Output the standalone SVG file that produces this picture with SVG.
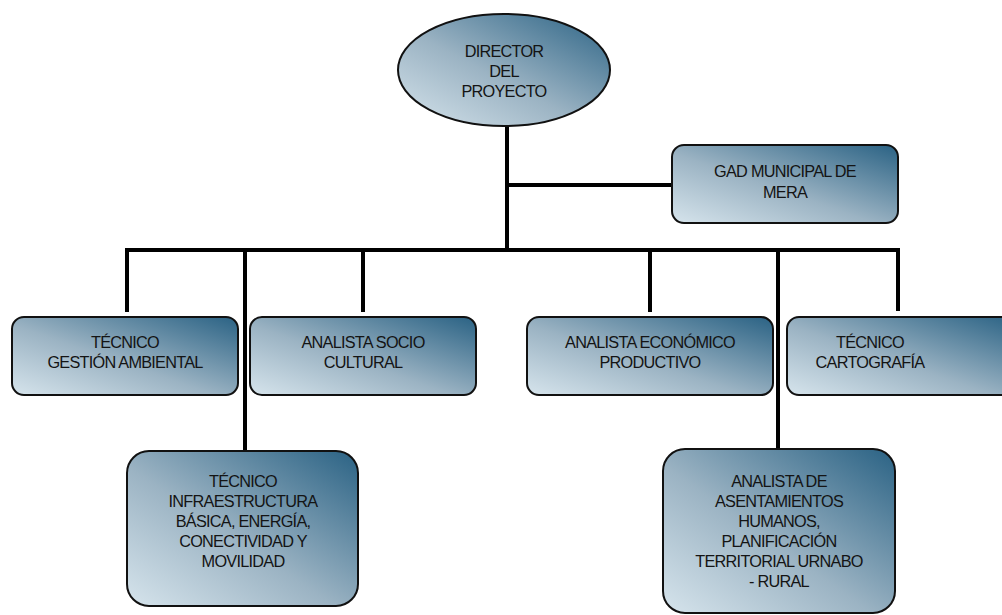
<svg xmlns="http://www.w3.org/2000/svg" width="1002" height="615" viewBox="0 0 1002 615">
  <style>
    .box { fill: url(#shade); stroke: #111; stroke-width: 2; }
    .lbl { font-family: "Liberation Sans", Arial, sans-serif; font-size: 16.3px; letter-spacing: -0.75px; fill: #141414; text-anchor: middle; }
    .wire { stroke: #000; stroke-width: 4; fill: none; stroke-linecap: butt; }
  </style>
  <defs>
    <linearGradient id="shade" x1="0" y1="1" x2="1" y2="0">
      <stop offset="0" stop-color="#d6e4ec"/>
      <stop offset="0.45" stop-color="#9bb3c3"/>
      <stop offset="1" stop-color="#2a6284"/>
    </linearGradient>
  </defs>
  <rect width="1002" height="615" fill="#fff"/>

  <g id="connectors">
    <path class="wire" d="M507 126 V252"/>
    <path class="wire" d="M505 185 H673"/>
    <path class="wire" d="M125 250 H900"/>
    <path class="wire" d="M127 248 V312"/>
    <path class="wire" d="M245 248 V452"/>
    <path class="wire" d="M363 248 V312"/>
    <path class="wire" d="M650 248 V312"/>
    <path class="wire" d="M778 248 V450"/>
    <path class="wire" d="M898 248 V311"/>
  </g>

  <g id="director">
    <ellipse class="box" cx="504" cy="70" rx="106" ry="56"/>
    <text class="lbl" x="504" y="57">DIRECTOR</text>
    <text class="lbl" x="504" y="77">DEL</text>
    <text class="lbl" x="504" y="97">PROYECTO</text>
  </g>

  <g id="gad">
    <rect class="box" x="672" y="145" width="226" height="78" rx="12"/>
    <text class="lbl" x="785" y="177">GAD MUNICIPAL DE</text>
    <text class="lbl" x="785" y="198">MERA</text>
  </g>

  <g id="ambiental">
    <rect class="box" x="12" y="317" width="226" height="78" rx="12"/>
    <text class="lbl" x="125" y="348">TÉCNICO</text>
    <text class="lbl" x="125" y="368">GESTIÓN AMBIENTAL</text>
  </g>

  <g id="sociocultural">
    <rect class="box" x="250" y="317" width="226" height="78" rx="12"/>
    <text class="lbl" x="363" y="348">ANALISTA SOCIO</text>
    <text class="lbl" x="363" y="368">CULTURAL</text>
  </g>

  <g id="economico">
    <rect class="box" x="527" y="317" width="246" height="78" rx="12"/>
    <text class="lbl" x="650" y="348">ANALISTA ECONÓMICO</text>
    <text class="lbl" x="650" y="368">PRODUCTIVO</text>
  </g>

  <g id="cartografia">
    <rect class="box" x="787" y="317" width="230" height="78" rx="12"/>
    <text class="lbl" x="870" y="348">TÉCNICO</text>
    <text class="lbl" x="870" y="368">CARTOGRAFÍA</text>
  </g>

  <g id="infraestructura">
    <rect class="box" x="127" y="451" width="231" height="155" rx="22"/>
    <text class="lbl" x="243" y="487">TÉCNICO</text>
    <text class="lbl" x="243" y="507">INFRAESTRUCTURA</text>
    <text class="lbl" x="243" y="527">BÁSICA, ENERGÍA,</text>
    <text class="lbl" x="243" y="547">CONECTIVIDAD Y</text>
    <text class="lbl" x="243" y="567">MOVILIDAD</text>
  </g>

  <g id="asentamientos">
    <rect class="box" x="663" y="449" width="232" height="164" rx="22"/>
    <text class="lbl" x="779" y="487">ANALISTA DE</text>
    <text class="lbl" x="779" y="507">ASENTAMIENTOS</text>
    <text class="lbl" x="779" y="527">HUMANOS,</text>
    <text class="lbl" x="779" y="547">PLANIFICACIÓN</text>
    <text class="lbl" x="779" y="567">TERRITORIAL URNABO</text>
    <text class="lbl" x="779" y="587">- RURAL</text>
  </g>
</svg>
